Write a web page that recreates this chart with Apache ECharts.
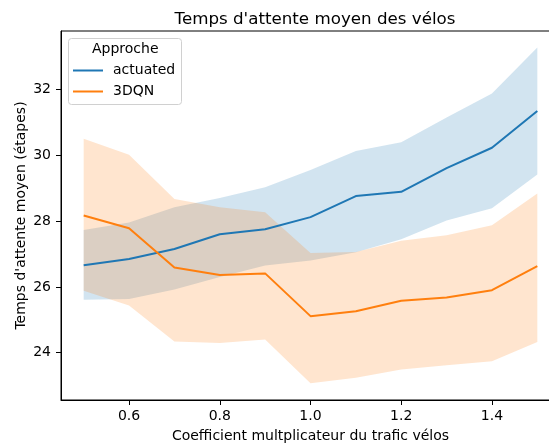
<!DOCTYPE html>
<html>
<head>
<meta charset="utf-8">
<script src="https://cdn.jsdelivr.net/npm/echarts@6/dist/echarts.min.js"></script>
<style>
  html, body { margin: 0; padding: 0; background: #fff; overflow: hidden; }
  /* The axes box runs a little past the right edge of the window */
  #chart { width: 566px; height: 448px; }
</style>
</head>
<body>
<div id="chart"></div>
<script>
// Traffic multiplier (x) and mean bike waiting time with its confidence band
const coefficients = [0.5, 0.6, 0.7, 0.8, 0.9, 1.0, 1.1, 1.2, 1.3, 1.4, 1.5];

const actuatedMean  = [26.66, 26.85, 27.15, 27.60, 27.75, 28.12, 28.76, 28.89, 29.61, 30.23, 31.35];
const actuatedLower = [25.61, 25.63, 25.92, 26.30, 26.65, 26.80, 27.05, 27.45, 28.02, 28.39, 29.42];
const actuatedUpper = [27.73, 27.96, 28.42, 28.70, 29.03, 29.55, 30.13, 30.40, 31.15, 31.88, 33.28];

const dqnMean  = [28.17, 27.78, 26.59, 26.36, 26.41, 25.11, 25.26, 25.58, 25.68, 25.90, 26.63];
const dqnLower = [25.88, 25.43, 24.34, 24.29, 24.40, 23.07, 23.24, 23.49, 23.62, 23.74, 24.32];
const dqnUpper = [30.50, 30.02, 28.67, 28.42, 28.27, 27.03, 27.06, 27.40, 27.57, 27.87, 28.84];

const xTicks = [0.6, 0.8, 1.0, 1.2, 1.4];
const yTicks = [24, 26, 28, 30, 32];

const FONT = 'DejaVu Sans';
const BLUE = '#1f77b4';
const ORANGE = '#ff7f0e';

function pairs(xs, ys) { return xs.map((x, i) => [x, ys[i]]); }

// Band polygon: upper edge left->right, then lower edge right->left
function bandSeries(name, lower, upper, fill) {
  return {
    type: 'custom',
    name: name,
    z: 1,
    silent: true,
    data: coefficients.map((x, i) => [x, lower[i], upper[i]]),
    encode: { x: 0, y: [1, 2] },
    renderItem: function (params, api) {
      if (params.dataIndex !== 0) return null;
      const pts = [];
      for (let i = 0; i < coefficients.length; i++) pts.push(api.coord([coefficients[i], upper[i]]));
      for (let i = coefficients.length - 1; i >= 0; i--) pts.push(api.coord([coefficients[i], lower[i]]));
      return { type: 'polygon', shape: { points: pts }, style: { fill: fill, stroke: null } };
    }
  };
}

function lineSeries(name, ys, color) {
  return {
    type: 'line',
    name: name,
    z: 3,
    data: pairs(coefficients, ys),
    symbol: 'none',
    lineStyle: { color: color, width: 2 },
    itemStyle: { color: color },
    emphasis: { disabled: true }
  };
}

const chart = echarts.init(document.getElementById('chart'), null, { renderer: 'canvas' });

chart.setOption({
  animation: false,
  backgroundColor: '#ffffff',
  textStyle: { fontFamily: FONT },
  title: {
    text: "Temps d'attente moyen des vélos",
    left: 310, top: 6, textAlign: 'center',
    textStyle: { fontFamily: FONT, fontSize: 16.7, fontWeight: 'normal', color: '#000' }
  },
  grid: { left: 61, top: 31, width: 499, bottom: 45, show: true, borderColor: '#000', borderWidth: 1, backgroundColor: 'transparent' },
  xAxis: {
    type: 'value', min: 0.45, max: 1.55,
    name: 'Coefficient multplicateur du trafic vélos',
    nameLocation: 'middle', nameGap: 29,
    nameMoveOverlap: false,
    nameTextStyle: { fontFamily: FONT, fontSize: 14, color: '#000' },
    axisLine: { show: true, onZero: false, lineStyle: { color: '#000', width: 1 } },
    axisTick: { show: true, length: 5, lineStyle: { color: '#000', width: 1 }, customValues: xTicks },
    axisLabel: { margin: 9, fontFamily: FONT, fontSize: 14, color: '#000', customValues: xTicks,
                 formatter: v => v.toFixed(1) },
    splitLine: { show: false }
  },
  yAxis: {
    type: 'value', min: 22.56, max: 33.78,
    name: "Temps d'attente moyen (étapes)",
    nameLocation: 'middle', nameGap: 33, nameRotate: 90,
    nameMoveOverlap: false,
    nameTextStyle: { fontFamily: FONT, fontSize: 14, color: '#000' },
    axisLine: { show: true, onZero: false, lineStyle: { color: '#000', width: 1 } },
    axisTick: { show: true, length: 5, lineStyle: { color: '#000', width: 1 }, customValues: yTicks },
    axisLabel: { margin: 10, fontFamily: FONT, fontSize: 14, color: '#000', customValues: yTicks,
                 formatter: v => String(v) },
    splitLine: { show: false }
  },
  legend: {
    data: ['actuated', '3DQN'],
    orient: 'vertical',
    left: 73, top: 63,
    z: 20,
    itemWidth: 30, itemHeight: 2, itemGap: 6,
    icon: 'rect',
    selectedMode: false,
    padding: 0,
    textStyle: { fontFamily: FONT, fontSize: 14, color: '#000', lineHeight: 15, padding: [0, 0, 0, 5] }
  },
  graphic: [
    {
      type: 'rect', z: 5, left: 68, top: 38,
      shape: { width: 113, height: 66, r: 3 },
      style: { fill: 'rgba(255,255,255,0.8)', stroke: '#d0d0d0', lineWidth: 1 }
    },
    {
      type: 'text', z: 6, left: 92, top: 42,
      style: { text: 'Approche', fontFamily: FONT, fontSize: 14, fill: '#000' }
    }
  ],
  series: [
    bandSeries('actuated band', actuatedLower, actuatedUpper, 'rgba(31,119,180,0.2)'),
    bandSeries('3DQN band', dqnLower, dqnUpper, 'rgba(255,127,14,0.2)'),
    lineSeries('actuated', actuatedMean, BLUE),
    lineSeries('3DQN', dqnMean, ORANGE)
  ]
});
</script>
</body>
</html>
